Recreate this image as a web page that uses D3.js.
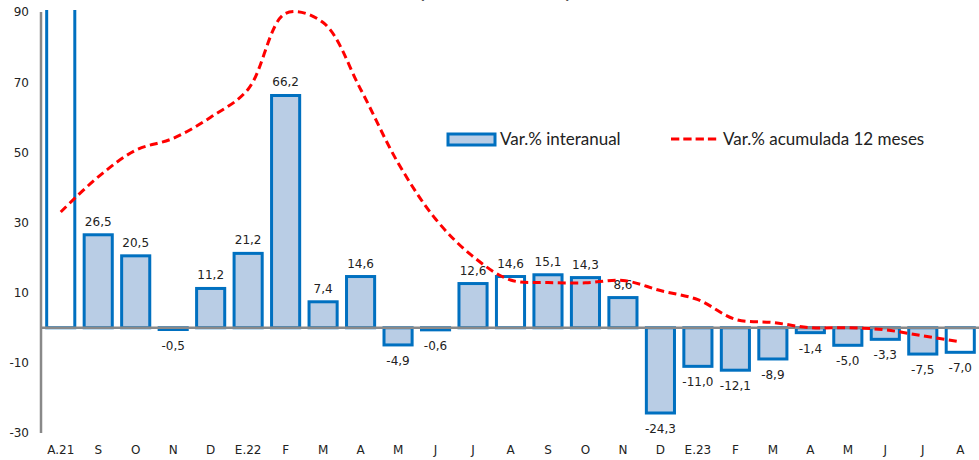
<!DOCTYPE html>
<html>
<head>
<meta charset="utf-8">
<script src="https://cdn.jsdelivr.net/npm/d3@7"></script>
<style>
  body { margin: 0; background: #fff; }
  svg { display: block; }
</style>
</head>
<body>
<svg id="chart" width="979" height="460"></svg>
<script>
// months from Aug 2021 to Aug 2023
const months = ["A.21", "S", "O", "N", "D", "E.22", "F", "M", "A", "M", "J", "J", "A",
                "S", "O", "N", "D", "E.23", "F", "M", "A", "M", "J", "J", "A"];
// first bar runs off the top of the chart, its value is not readable
const interanual = [130, 26.5, 20.5, -0.5, 11.2, 21.2, 66.2, 7.4, 14.6, -4.9, -0.6, 12.6, 14.6,
                    15.1, 14.3, 8.6, -24.3, -11.0, -12.1, -8.9, -1.4, -5.0, -3.3, -7.5, -7.0];
const acumulada = [33, 43, 50.6, 54, 60, 68, 89.6, 87, 68, 47, 31, 20.3, 13.6,
                   12.9, 12.8, 13.5, 10.6, 8, 2.4, 1.5, 0, 0, -0.6, -2.3, -4];
const yTicks = [-30, -10, 10, 30, 50, 70, 90];

const svg = d3.select("#chart");
const blue = "#0070c0", fillBlue = "#b9cde5", grey = "#898989";
const fmt = v => v.toFixed(1).replace(".", ",");

const x = d3.scaleBand()
    .domain(d3.range(months.length))
    .range([42, 979])
    .paddingInner(0.25)
    .paddingOuter(0.125);

const y = d3.scaleLinear().domain([-30, 90]).range([433, 12]);

// title, cut off at the top of the picture
svg.append("text")
    .attr("x", 495).attr("y", -1)
    .attr("text-anchor", "middle")
    .style("font-family", "DejaVu Sans").style("font-size", "13.5px").style("font-weight", "bold")
    .attr("fill", "#222")
    .text("(Tasas de variación)");

svg.append("clipPath").attr("id", "plot")
    .append("rect").attr("x", 0).attr("y", 10).attr("width", 979).attr("height", 440);

// bars
svg.append("g").attr("clip-path", "url(#plot)")
    .selectAll("rect")
    .data(interanual)
    .join("rect")
    .attr("x", (d, i) => x(i))
    .attr("width", x.bandwidth())
    .attr("y", d => y(Math.max(0, d)))
    .attr("height", d => Math.abs(y(d) - y(0)))
    .attr("fill", (d, i) => i % 12 === 0 ? "#fff" : fillBlue)   // August bars are empty
    .attr("stroke", blue)
    .attr("stroke-width", 3);

// axes
svg.append("line")
    .attr("x1", 41).attr("x2", 979)
    .attr("y1", y(0)).attr("y2", y(0))
    .attr("stroke", grey).attr("stroke-width", 2.5);
svg.append("line")
    .attr("x1", 41).attr("x2", 41)
    .attr("y1", y(90)).attr("y2", y(-30))
    .attr("stroke", grey).attr("stroke-width", 2.5);

const yAxis = d3.axisLeft(y).tickValues(yTicks).tickSize(0).tickPadding(0);
svg.append("g")
    .attr("transform", "translate(29,0)")
    .call(yAxis)
    .call(g => g.select(".domain").remove())
    .selectAll("text")
    .style("font-family", "DejaVu Sans").style("font-size", "12px").attr("fill", "#222")
    .text(d => String(d));

const xAxis = d3.axisBottom(x).tickFormat(i => months[i]).tickSize(0).tickPadding(0);
svg.append("g")
    .attr("transform", "translate(0,445)")
    .call(xAxis)
    .call(g => g.select(".domain").remove())
    .selectAll("text")
    .style("font-family", "DejaVu Sans").style("font-size", "12px").attr("fill", "#222");

// data labels (the off-chart first bar has none visible)
svg.append("g")
    .selectAll("text")
    .data(interanual.map((v, i) => ({ v, i })).filter(d => d.v <= 90))
    .join("text")
    .attr("x", d => x(d.i) + x.bandwidth() / 2)
    .attr("y", d => d.v >= 0 ? y(d.v) - 9 : y(d.v) + 20)
    .attr("text-anchor", "middle")
    .style("font-family", "DejaVu Sans").style("font-size", "12px")
    .attr("fill", "#222")
    .text(d => fmt(d.v));

// accumulated 12 months line
const line = d3.line()
    .x((d, i) => x(i) + x.bandwidth() / 2)
    .y(d => y(d))
    .curve(d3.curveCatmullRom.alpha(0.5));

svg.append("path")
    .datum(acumulada)
    .attr("d", line)
    .attr("fill", "none")
    .attr("stroke", "#ff0000")
    .attr("stroke-width", 3)
    .attr("stroke-dasharray", "8,4.5");

// legend
const legend = svg.append("g")
    .style("font-family", "Lato").style("font-size", "17px").attr("fill", "#222");
legend.append("rect")
    .attr("x", 448).attr("y", 134).attr("width", 47).attr("height", 11)
    .attr("fill", fillBlue).attr("stroke", blue).attr("stroke-width", 3);
legend.append("text").attr("x", 500).attr("y", 145).text("Var.% interanual");
legend.append("line")
    .attr("x1", 671).attr("x2", 717).attr("y1", 139).attr("y2", 139)
    .attr("stroke", "#ff0000").attr("stroke-width", 3).attr("stroke-dasharray", "8.3,4");
legend.append("text").attr("x", 723).attr("y", 145).text("Var.% acumulada 12 meses");
</script>
</body>
</html>
